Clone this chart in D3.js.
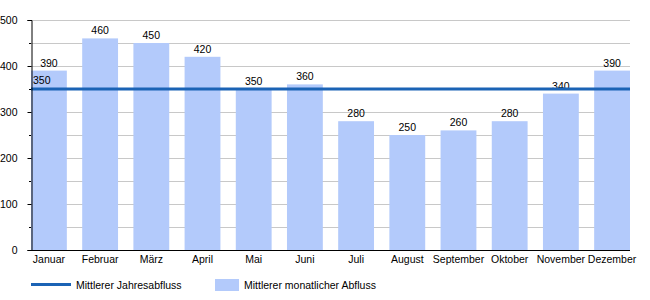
<!DOCTYPE html>
<html>
<head>
<meta charset="utf-8">
<script src="https://cdn.jsdelivr.net/npm/d3@7"></script>
<style>
  body { margin: 0; background: #fff; }
  text { font-family: "Liberation Sans", Arial, sans-serif; font-size: 10.5px; fill: #000; }
</style>
</head>
<body>
<div id="chart"></div>
<script>
var months = ["Januar", "Februar", "März", "April", "Mai", "Juni", "Juli", "August", "September", "Oktober", "November", "Dezember"];
var monthlyFlow = [390, 460, 450, 420, 350, 360, 280, 250, 260, 280, 340, 390];
var yearlyFlow = 350;
var yTicks = [0, 100, 200, 300, 400, 500];
var gridValues = [50, 100, 150, 200, 250, 300, 350, 400, 450, 500];
var legendLabels = ["Mittlerer Jahresabfluss", "Mittlerer monatlicher Abfluss"];

var barColor = "#b3cafb";
var lineColor = "#1b63b5";

var svg = d3.select("#chart").append("svg")
    .attr("width", 650)
    .attr("height", 300);

var x = d3.scaleBand()
    .domain(months)
    .range([31, 630])
    .paddingInner(0.3)
    .paddingOuter(0);

var y = d3.scaleLinear()
    .domain([0, 500])
    .range([250, 20]);

// grid
svg.append("g")
    .selectAll("line")
    .data(gridValues)
    .enter()
    .append("line")
    .attr("x1", 31)
    .attr("x2", 630)
    .attr("y1", function(d){ return y(d) + 0.5; })
    .attr("y2", function(d){ return y(d) + 0.5; })
    .attr("stroke", "#c8c8c8")
    .attr("stroke-width", 1);

// bars
svg.append("g")
    .selectAll("rect")
    .data(monthlyFlow)
    .enter()
    .append("rect")
    .attr("x", function(d,i){ return x(months[i]); })
    .attr("y", function(d){ return y(d); })
    .attr("width", x.bandwidth())
    .attr("height", function(d){ return y(0) - y(d); })
    .attr("fill", barColor);

// value labels
svg.append("g")
    .selectAll("text")
    .data(monthlyFlow)
    .enter()
    .append("text")
    .attr("x", function(d,i){ return x(months[i]) + x.bandwidth() / 2; })
    .attr("y", function(d){ return y(d) - 4; })
    .attr("text-anchor", "middle")
    .text(function(d){ return d; });

// yearly mean line
svg.append("line")
    .attr("x1", 31)
    .attr("x2", 630)
    .attr("y1", y(yearlyFlow))
    .attr("y2", y(yearlyFlow))
    .attr("stroke", lineColor)
    .attr("stroke-width", 3);

svg.append("text")
    .attr("x", 33)
    .attr("y", y(yearlyFlow) - 5)
    .text(yearlyFlow);

// y axis
var yAxis = svg.append("g")
    .attr("transform", "translate(31.5,0)")
    .call(d3.axisLeft(y).tickValues(yTicks).tickSize(4).tickPadding(10));
yAxis.select(".domain").attr("stroke", "#000");
yAxis.selectAll("text").style("font-size", "10.5px").attr("font-family", null);

svg.append("g")
    .selectAll("line")
    .data(gridValues.filter(function(d){ return d % 100 != 0; }))
    .enter()
    .append("line")
    .attr("x1", 29)
    .attr("x2", 31)
    .attr("y1", function(d){ return y(d) + 0.5; })
    .attr("y2", function(d){ return y(d) + 0.5; })
    .attr("stroke", "#000");

// x axis
var xAxis = svg.append("g")
    .attr("transform", "translate(0,250.5)")
    .call(d3.axisBottom(x).tickSize(0).tickPadding(5).tickSizeOuter(0));
xAxis.select(".domain").attr("stroke", "#000").attr("d", "M31,0H630");
xAxis.selectAll("text").style("font-size", "10.5px").attr("font-family", null);

// legend
svg.append("line")
    .attr("x1", 31)
    .attr("x2", 71)
    .attr("y1", 284.5)
    .attr("y2", 284.5)
    .attr("stroke", lineColor)
    .attr("stroke-width", 3);
svg.append("text")
    .attr("x", 76)
    .attr("y", 289)
    .text(legendLabels[0]);

svg.append("rect")
    .attr("x", 215)
    .attr("y", 279)
    .attr("width", 24)
    .attr("height", 12)
    .attr("fill", barColor);
svg.append("text")
    .attr("x", 244)
    .attr("y", 289)
    .text(legendLabels[1]);
</script>
</body>
</html>
